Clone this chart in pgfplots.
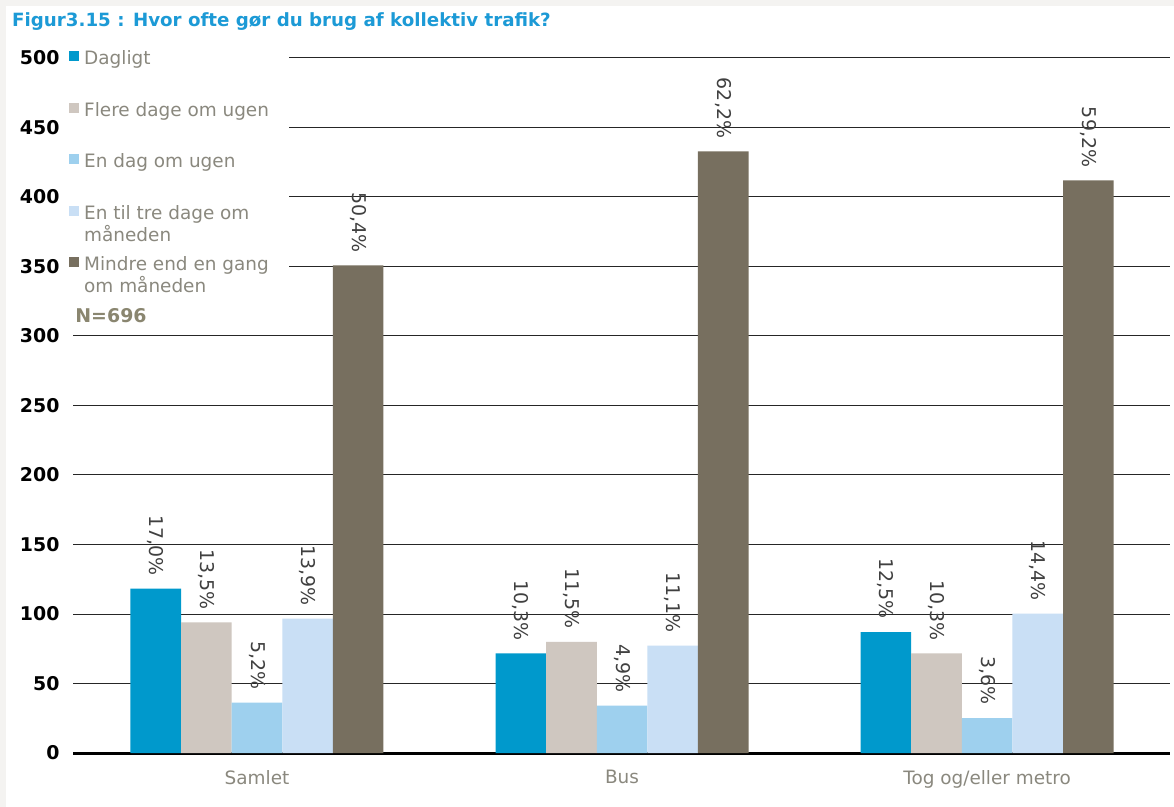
\documentclass[border=0pt]{standalone}
\usepackage{fontspec}
\setmainfont{DejaVu Sans}
\usepackage{pgfplots}
\pgfplotsset{compat=1.18}

\definecolor{cDag}{RGB}{0,153,204}
\definecolor{cFlere}{RGB}{207,199,192}
\definecolor{cEn}{RGB}{158,208,238}
\definecolor{cTre}{RGB}{201,223,245}
\definecolor{cMindre}{RGB}{119,111,95}
\definecolor{txtgrey}{RGB}{138,136,126}
\definecolor{titleblue}{RGB}{28,154,214}
\definecolor{ngrey}{RGB}{138,134,112}
\definecolor{bggrey}{RGB}{244,243,241}

\begin{document}
\begin{tikzpicture}
% background: thin grey frame, white page
\fill[bggrey] (-73bp,-54bp) rectangle (1101bp,753bp);
\fill[white] (-67bp,-54bp) rectangle (1101bp,747bp);

\begin{axis}[
    scale only axis,
    width=1097bp, height=695bp,
    at={(0,0)}, anchor=south west,
    ybar=0pt,
    bar width=0.1386,
    xmin=-0.504, xmax=2.501,
    ymin=0, ymax=500,
    ytick={0,50,...,500},
    xtick={0,1,2},
    xticklabels={Samlet,Bus,Tog og/eller metro},
    major tick length=0pt,
    axis x line*=bottom,
    axis y line*=left,
    y axis line style={draw=none},
    x axis line style={line width=3bp, black},
    ymajorgrids,
    grid style={black!85, line width=1bp},
    /pgf/number format/assume math mode=true,
    yticklabel style={font=\bfseries\fontsize{19}{22}\selectfont, text=black, xshift=-10bp},
    xticklabel style={font=\fontsize{18.5}{22}\selectfont, text=txtgrey, yshift=-14bp},
    point meta=explicit symbolic,
    nodes near coords,
    nodes near coords style={rotate=-90, anchor=east, font=\fontsize{19}{22}\selectfont,
        text=black!75, inner sep=13bp},
    legend cell align=left,
    legend image code/.code={\fill[#1] (0bp,-1bp) rectangle (10bp,9bp);},
    legend style={at={(0,1)}, anchor=north west, xshift=-4bp, yshift=10bp,
        fill=white, draw=none, inner xsep=0bp, inner ysep=3bp,
        row sep=34bp, column sep=5bp,
        nodes={inner sep=0pt, text height=13bp, text depth=4bp,
            font=\fontsize{18.5}{22}\selectfont, text=txtgrey}},
]
\addplot[fill=cDag, draw=none] coordinates {(0,118.3) [17,0\%] (1,71.7) [10,3\%] (2,87.0) [12,5\%]};
\addlegendentry{\parbox[t]{205bp}{Dagligt}}
\addplot[fill=cFlere, draw=none] coordinates {(0,94.0) [13,5\%] (1,80.0) [11,5\%] (2,71.7) [10,3\%]};
\addlegendentry{Flere dage om ugen}
\addplot[fill=cEn, draw=none] coordinates {(0,36.2) [5,2\%] (1,34.1) [4,9\%] (2,25.1) [3,6\%]};
\addlegendentry{En dag om ugen}
\addplot[fill=cTre, draw=none] coordinates {(0,96.7) [13,9\%] (1,77.3) [11,1\%] (2,100.2) [14,4\%]};
\addlegendentry{\parbox[t]{205bp}{En til tre dage om\\måneden}}
\addplot[fill=cMindre, draw=none] coordinates {(0,350.8) [50,4\%] (1,432.9) [62,2\%] (2,412.0) [59,2\%]};
\addlegendentry{\parbox[t]{205bp}{Mindre end en gang\\om måneden}}

\node[anchor=west, font=\bfseries\fontsize{19}{22}\selectfont, text=ngrey, inner sep=0pt]
    at (rel axis cs:0.002,0.630) {N=696};
\end{axis}

\node[anchor=base west, font=\bfseries\fontsize{18.3}{21}\selectfont, text=titleblue, inner sep=0pt]
    at (-61bp,726bp) {Figur3.15 : Hvor ofte gør du brug af kollektiv trafik?};
\path (-73bp,-54bp) rectangle (1101bp,753bp);
\end{tikzpicture}
\end{document}
